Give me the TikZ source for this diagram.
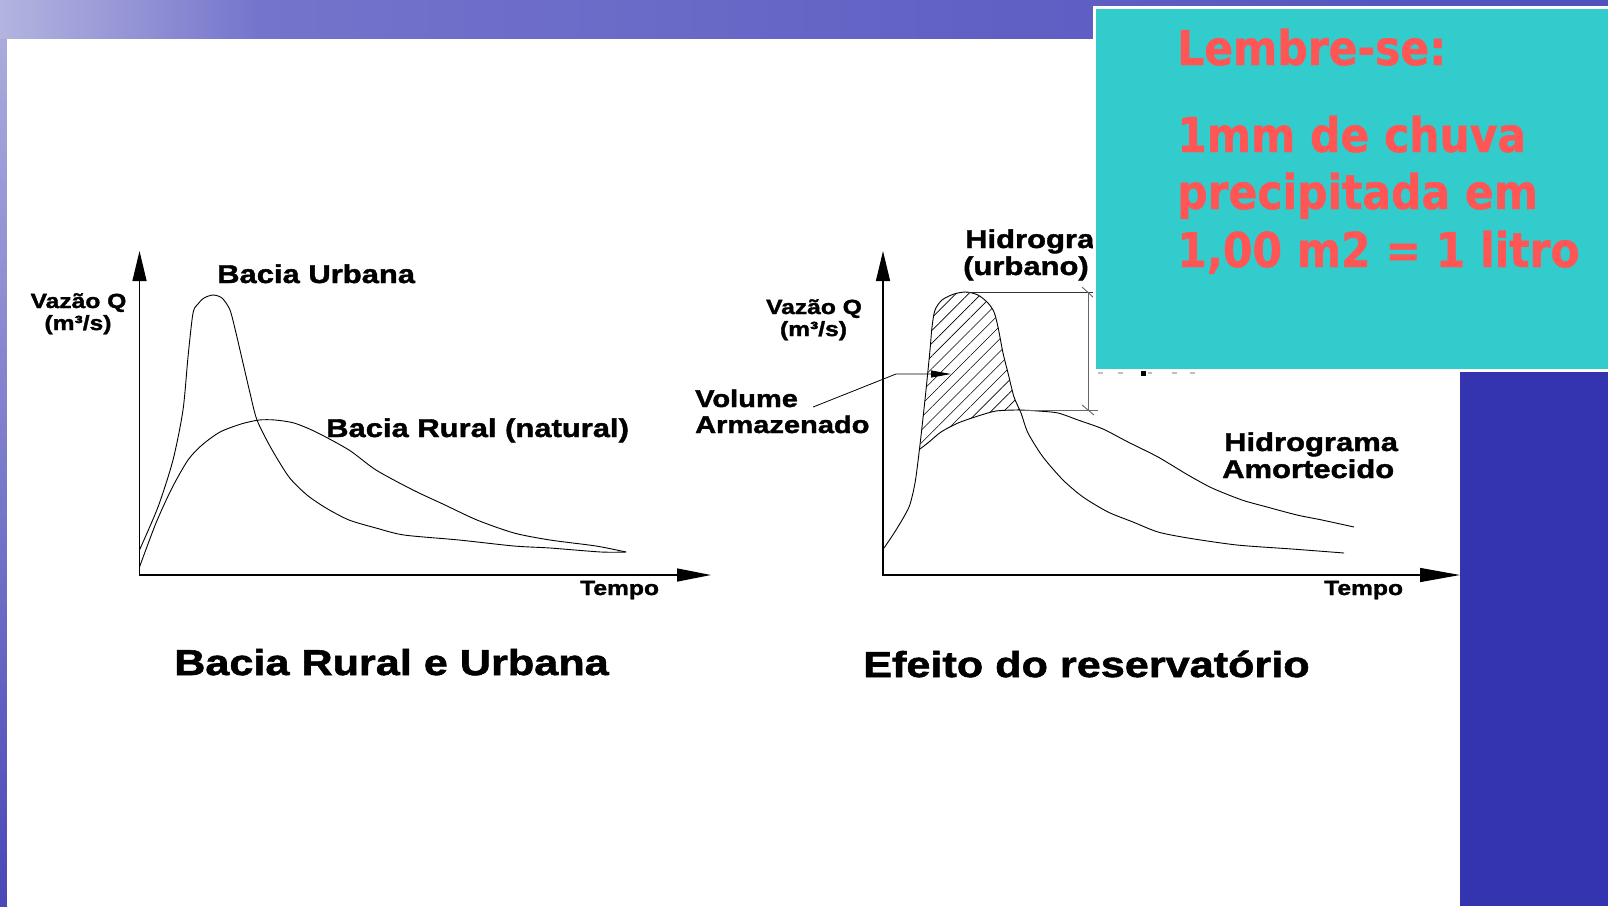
\documentclass[tikz,border=0pt]{standalone}
\usepackage{fontspec}
\usepackage{tikz}
\usetikzlibrary{arrows.meta,patterns.meta,positioning}
\newfontfamily\chartfont[FakeStretch=1.2,FakeBold=1.6]{Liberation Sans}
\newfontfamily\notefont[FakeStretch=0.885,FakeBold=0.8]{DejaVu Sans}
\definecolor{noteCyan}{HTML}{33CCCC}
\definecolor{noteRed}{HTML}{FF5555}
\definecolor{bgLight}{HTML}{B4B4E0}
\definecolor{bgMid}{HTML}{7474CC}
\definecolor{bgDark}{HTML}{5050BE}
\definecolor{bgDeep}{HTML}{3434B0}

\begin{document}
\begin{tikzpicture}[
    x=1pt, y=-1pt,
    axis/.style={line width=1.3pt, {Triangle[length=30pt, width=14pt]}-{Triangle[length=34pt, width=13pt]}},
    curve/.style={line width=0.9pt, smooth, tension=0.45, line join=round},
    lbl/.style={inner sep=0pt, anchor=base west, font=\chartfont\bfseries\fontsize{25.8}{27}\selectfont},
    axlbl/.style={lbl, font=\chartfont\bfseries\fontsize{20.5}{22}\selectfont},
    caption/.style={lbl, font=\chartfont\bfseries\fontsize{36}{40}\selectfont},
    note/.style={inner sep=0pt, anchor=base west, text=noteRed, font=\notefont\bfseries\fontsize{48}{57}\selectfont},
    leader/.style={line width=0.8pt, -{Triangle[length=20pt, width=7pt]}},
    dimline/.style={draw=gray!80!black, line width=0.9pt}
]
\useasboundingbox (0,0) rectangle (1608,906);

% Slide background
\fill[bgDeep] (0,0) rectangle (1608,906);
\shade[left color=bgLight, right color=bgMid] (0,0) rectangle (260,39);
\shade[left color=bgMid, right color=bgDark] (260,0) rectangle (1608,39);
\shade[top color=bgLight!85!bgMid, bottom color=bgDeep!90!white] (0,39) rectangle (7,906);
\fill[white] (7,39) rectangle (1460,906);

% Left chart: rural and urban basin
\draw[axis] (139.5,251) -- (139.5,575) -- (711,575);
\draw[curve] plot coordinates {(139.5,550) (158,507) (173,460) (183,410) (188,357) (193,313) (198,304) (204,298) (213,295) (222,298) (230,310) (236,333) (243,363) (250,393) (257,420) (271,448) (289,477) (307,495) (326,508) (349,520) (376,528) (404,535) (459,540) (514,546) (550,548) (601,552) (626,552)};
\draw[curve] plot coordinates {(139.5,567) (156,523) (172,488) (188,460) (202,445) (220,432) (241,424) (259,420) (275,420) (294,423) (316,432) (349,450) (376,470) (413,490) (445,505) (477,520) (514,533) (550,540) (596,546) (626,552)};

\node[axlbl, anchor=base] (vazaoL) at (78.5,308) {Vazão Q};
\node[axlbl, anchor=base] (unitL) at (78,330) {(m³/s)};
\node[lbl] (urbanL) at (217,283) {Bacia Urbana};
\node[lbl] (ruralL) at (326,437) {Bacia Rural (natural)};
\node[axlbl] (tempoL) at (580,595) {Tempo};
\node[caption] (titleL) at (174,675) {Bacia Rural e Urbana};

% Right chart: reservoir effect
\fill[pattern={Lines[angle=45, distance=9pt, line width=0.6pt]}]
    plot[smooth, tension=0.45] coordinates {(920,449) (922,427) (926,390) (930,350) (932,327) (935,310) (942,300) (954,294) (966,292) (978,295) (988,303) (994,312) (998,327) (1003,353) (1008,373) (1014,397) (1019.5,410)}
    -- plot[smooth, tension=0.45] coordinates {(1018,410) (996,411) (978,416) (958,423) (941,432) (929,442) (920,449)} -- cycle;

\draw[axis, {Triangle[length=30pt, width=14pt]}-{Triangle[length=40pt, width=14pt]}] (883,251) -- (883,575) -- (1460,575);
\draw[curve] plot coordinates {(884,548) (896,530) (909,507) (915,483) (919,453) (922,427) (926,390) (930,350) (932,327) (935,310) (942,300) (954,294) (966,292) (978,295) (988,303) (994,312) (998,327) (1003,353) (1008,373) (1014,397) (1021,413) (1028,433) (1043,457) (1063,480) (1083,497) (1108,512) (1133,522) (1158,532) (1188,538) (1237,545) (1292,549) (1344,553)};
\draw[curve] plot coordinates {(920,449) (929,442) (941,432) (958,423) (978,416) (996,411) (1018,410) (1038,411) (1058,413) (1078,420) (1103,429) (1128,442) (1158,457) (1188,475) (1212,488) (1242,500) (1267,507) (1297,515) (1322,520) (1354,527)};

% Peak reduction dimension
\draw[line width=0.8pt, black!80] (966,292) -- (1095,292);
\draw[dimline] (1022,410) -- (1098,410);
\draw[dimline] (1088,292) -- (1088,410);
\draw[dimline] (1082,287) -- (1094,298);
\draw[dimline] (1082,405) -- (1094,415);

\node[axlbl, anchor=base] (vazaoR) at (814,314) {Vazão Q};
\node[axlbl, anchor=base] (unitR) at (813.5,336) {(m³/s)};
\node[lbl] (hidroU) at (965,248) {Hidrograma};
\node[lbl] (urbano) at (963,275) {(urbano)};
\node[lbl, font=\chartfont\bfseries\fontsize{24.2}{26}\selectfont] (volume) at (695,407) {Volume};
\node[lbl, font=\chartfont\bfseries\fontsize{24.2}{26}\selectfont] (armaz) at (695,433) {Armazenado};
\node[lbl] (hidroA) at (1224,451) {Hidrograma};
\node[lbl] (amort) at (1222,478) {Amortecido};
\node[axlbl] (tempoR) at (1324,595) {Tempo};
\node[caption] (titleR) at (863,677) {Efeito do reservatório};

% Leader to stored volume
\coordinate (volBend) at (896,374);
\coordinate (volTip) at (951,374);
\draw[leader] ([xshift=15pt]volume.base east) -- (volBend) -- (volTip);

% Reminder box
\fill[white] (1093,6) rectangle (1608,372);
\fill[noteCyan] (1096,9) rectangle (1608,369);
\fill[gray!50] (1098,372) rectangle (1103,373.5);
\fill[gray!50] (1118,372) rectangle (1123,373.5);
\fill[black] (1141,371) rectangle (1146,376);
\fill[gray!50] (1148,372) rectangle (1152,373.5);
\fill[gray!50] (1172,372) rectangle (1177,373.5);
\fill[gray!50] (1190,372) rectangle (1195,373.5);
\fill[bgDeep] (1460,374) rectangle (1608,906);

\node[note] (lembre) at (1177,65) {Lembre-se:};
\node[note] (chuva) at (1177,152) {1mm de chuva};
\node[note] (precip) at (1177,209) {precipitada em};
\node[note] (litro) at (1177,267) {1,00 m2 = 1 litro};

\end{tikzpicture}
\end{document}
